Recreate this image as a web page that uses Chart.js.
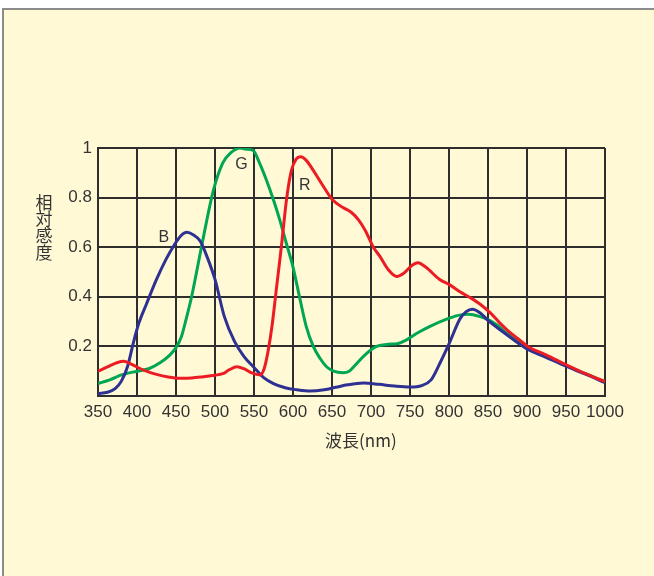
<!DOCTYPE html>
<html>
<head>
<meta charset="utf-8">
<script src="https://cdn.jsdelivr.net/npm/chart.js@4.4.1/dist/chart.umd.min.js"></script>
<style>
  html, body { margin: 0; padding: 0; background: #ffffff; }
  #c { display: block; }
</style>
</head>
<body>
<canvas id="c" width="654" height="576"></canvas>
<script>
// ---- data (wavelength nm / relative sensitivity) ----
const xTicks = [350,400,450,500,550,600,650,700,750,800,850,900,950,1000];
const yTicks = [0, 0.2, 0.4, 0.6, 0.8, 1];

const blueNm  = [350,362,372,380,388,395,402,412,425,437,447,456,464,472,481,490,500,512,525,537,550,562,575,590,605,622,640,655,670,690,710,730,750,765,777,788,800,814,822,830,840,850,862,875,888,900,925,950,975,1000];
const blueVal = [0.01,0.015,0.03,0.06,0.12,0.21,0.29,0.37,0.47,0.55,0.605,0.645,0.66,0.65,0.625,0.56,0.47,0.32,0.22,0.16,0.115,0.075,0.05,0.033,0.025,0.02,0.025,0.035,0.045,0.052,0.047,0.04,0.036,0.042,0.065,0.13,0.21,0.31,0.34,0.35,0.335,0.305,0.275,0.245,0.215,0.19,0.155,0.12,0.088,0.054];

const greenNm  = [350,365,380,400,415,430,442,450,457,463,470,477,487,498,510,520,532,540,549,557,566,575,583,592,600,609,617,626,635,643,652,664,672,680,692,707,720,735,745,760,775,797,812,825,840,852,862,875,888,900,925,950,975,1000];
const greenVal = [0.05,0.065,0.085,0.1,0.11,0.135,0.165,0.195,0.24,0.31,0.40,0.51,0.67,0.83,0.94,0.98,1.0,0.995,0.99,0.94,0.87,0.79,0.71,0.61,0.52,0.39,0.28,0.2,0.15,0.118,0.1,0.094,0.1,0.125,0.165,0.2,0.208,0.212,0.225,0.255,0.28,0.31,0.325,0.33,0.32,0.305,0.285,0.25,0.22,0.195,0.16,0.122,0.09,0.056];

const redNm  = [350,362,375,383,392,400,412,425,440,455,470,485,500,510,518,528,537,547,558,563,568,573,579,585,592,598,604,610,617,626,638,651,664,675,684,693,703,711,722,733,742,752,760,770,788,800,814,828,840,853,865,875,888,901,925,951,975,1000];
const redVal = [0.1,0.117,0.135,0.14,0.13,0.117,0.1,0.087,0.077,0.072,0.073,0.078,0.084,0.09,0.105,0.118,0.11,0.093,0.085,0.11,0.18,0.28,0.44,0.6,0.8,0.91,0.955,0.965,0.95,0.91,0.85,0.79,0.76,0.74,0.71,0.665,0.6,0.565,0.51,0.482,0.495,0.525,0.537,0.52,0.47,0.45,0.42,0.395,0.37,0.335,0.295,0.265,0.232,0.2,0.165,0.125,0.09,0.058];

const curveLabels = [
  { text: 'B', nm: 434.5, val: 0.638 },
  { text: 'G', nm: 534,   val: 0.935 },
  { text: 'R', nm: 615,   val: 0.85 }
];
const yTitleChars = ['相','対','感','度'];
const xTitle = '波長(nm)';
const xTitleNm = 687;

const pts = (xs, ys) => xs.map((x, i) => ({ x: x, y: ys[i] }));

const FONT = "'Liberation Sans', 'Noto Sans CJK JP', sans-serif";
const CJK = "'Noto Sans CJK JP', 'Liberation Sans', sans-serif";
const TXT = '#333333';
const GRID = '#2e2e2e';

const decor = {
  id: 'decor',
  beforeDraw(chart) {
    const ctx = chart.ctx;
    ctx.save();
    ctx.fillStyle = '#ffffff';
    ctx.fillRect(0, 0, chart.width, chart.height);
    ctx.fillStyle = '#fff9d6';
    ctx.fillRect(2, 8, chart.width - 2, chart.height - 8);
    ctx.fillStyle = '#8c8c8c';
    ctx.fillRect(2, 8, chart.width - 2, 2);
    ctx.fillRect(2, 8, 2, chart.height - 8);
    ctx.restore();
  },
  afterDraw(chart) {
    const ctx = chart.ctx;
    const xs = chart.scales.x, ys = chart.scales.y;
    ctx.save();
    ctx.fillStyle = TXT;
    ctx.textAlign = 'center';
    ctx.textBaseline = 'middle';
    ctx.font = '16px ' + FONT;
    curveLabels.forEach(l => {
      ctx.fillText(l.text, xs.getPixelForValue(l.nm), ys.getPixelForValue(l.val));
    });
    ctx.font = '17px ' + CJK;
    const midY = (ys.getPixelForValue(0.8) + ys.getPixelForValue(0.6)) / 2 + 5;
    const step = 16.8;
    yTitleChars.forEach((ch, i) => {
      ctx.fillText(ch, 44, midY + (i - 1.5) * step);
    });
    ctx.font = '17px ' + CJK;
    ctx.fillText(xTitle, xs.getPixelForValue(xTitleNm), 441);
    ctx.restore();
  }
};

new Chart(document.getElementById('c'), {
  type: 'line',
  data: {
    datasets: [
      { label: 'R', data: pts(redNm, redVal), borderColor: '#ec1c24', order: 1 },
      { label: 'B', data: pts(blueNm, blueVal), borderColor: '#2e3192', order: 2 },
      { label: 'G', data: pts(greenNm, greenVal), borderColor: '#00a651', order: 3 }
    ]
  },
  options: {
    responsive: false,
    animation: false,
    devicePixelRatio: 1,
    layout: { padding: { top: 148, right: 49, bottom: 0, left: 0 } },
    elements: {
      line: { borderWidth: 3, cubicInterpolationMode: 'monotone', fill: false },
      point: { radius: 0 }
    },
    plugins: { legend: { display: false }, tooltip: { enabled: false } },
    scales: {
      x: {
        type: 'linear', min: 350, max: 1000,
        afterBuildTicks: s => { s.ticks = xTicks.map(v => ({ value: v })); },
        afterFit: s => { s.height = 180; },
        ticks: { autoSkip: false, maxRotation: 0, padding: 6, color: TXT, font: { size: 17, family: FONT },
                 callback: v => String(v) },
        grid: { color: GRID, lineWidth: 2, drawTicks: false },
        border: { color: GRID, width: 2 }
      },
      y: {
        min: 0, max: 1,
        afterBuildTicks: s => { s.ticks = yTicks.map(v => ({ value: v })); },
        afterFit: s => { s.width = 98; },
        ticks: { padding: 6, color: TXT, font: { size: 17, family: FONT },
                 callback: v => v === 0 ? '' : String(+v.toFixed(1)) },
        grid: { color: GRID, lineWidth: 2, drawTicks: false },
        border: { color: GRID, width: 2 }
      }
    }
  },
  plugins: [decor]
});
</script>
</body>
</html>
